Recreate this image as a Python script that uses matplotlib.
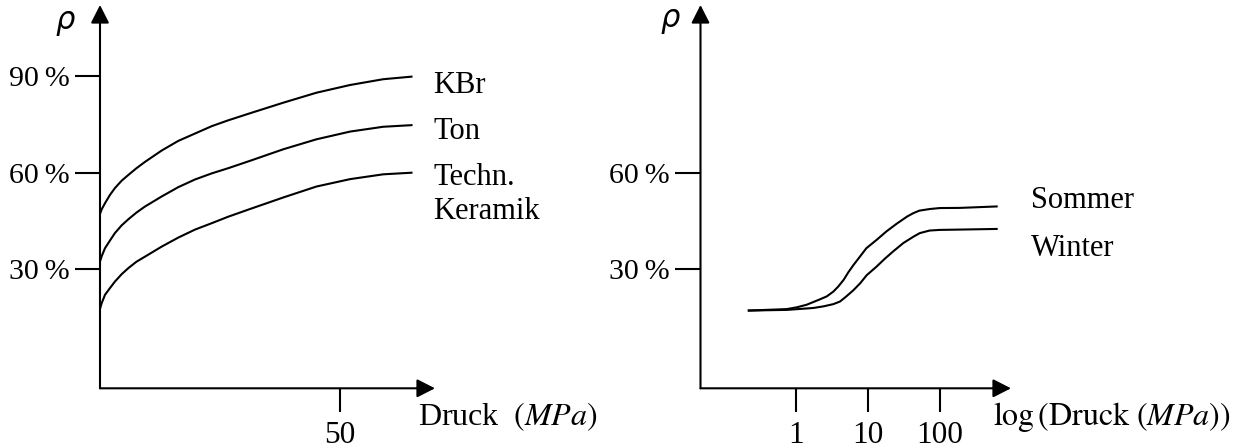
import numpy as np
import matplotlib
matplotlib.use('Agg')
import matplotlib.pyplot as plt
from matplotlib.ticker import NullLocator

plt.rcParams['font.family'] = ['Liberation Serif', 'DejaVu Serif']
plt.rcParams['mathtext.fontset'] = 'stix'

# --- Daten links: Dichte gegen Druck (MPa) ---
druck = [0, 0.35, 1.04, 2.08, 3.1, 4.5, 5.9, 7.6, 9.4, 12.85, 16.3, 19.8,
         23.3, 26.7, 31.25, 38.2, 45.1, 52.1, 59.0, 64.9]
kbr = [47.2, 48.6, 50.5, 53.1, 55.2, 57.5, 59.3, 61.4, 63.4, 66.9, 69.9, 72.2,
       74.5, 76.3, 78.5, 81.8, 84.9, 87.3, 89.1, 89.9]
ton = [32.4, 34.0, 36.5, 38.9, 41.2, 43.6, 45.5, 47.6, 49.5, 52.6, 55.5, 57.9,
       59.8, 61.4, 63.7, 67.3, 70.4, 72.8, 74.3, 74.8]
keramik = [17.6, 19.4, 22.0, 24.1, 26.1, 28.4, 30.3, 32.3, 33.9, 37.0, 39.8, 42.3,
           44.3, 46.3, 48.7, 52.3, 55.7, 58.0, 59.5, 60.0]
links_yticks = [30, 60, 90]
links_xticks = [50]

# --- Daten rechts: Dichte gegen log(Druck) ---
druck_s = [0.22, 0.74, 1.02, 1.4, 2.1, 2.67, 3.3, 3.87, 4.6, 5.33, 6.3, 7.74, 9.5,
           13.2, 18, 25, 35, 42.6, 52, 72.4, 100, 190, 617]
sommer = [17.1, 17.55, 18.1, 18.9, 20.5, 21.5, 23.0, 24.6, 26.7, 29.0, 31.3, 33.9,
          36.5, 39.1, 41.7, 44.1, 46.35, 47.4, 48.2, 48.7, 49.0, 49.05, 49.5]
druck_w = [0.22, 0.74, 1.14, 1.74, 2.4, 3.3, 4.08, 5.0, 6.25, 7.8, 9.6, 13.2,
           17.3, 22.4, 31, 43, 52.6, 72, 100, 190, 617]
winter = [17.1, 17.3, 17.6, 17.9, 18.4, 19.1, 19.9, 21.5, 23.4, 25.6, 28.1, 30.8,
          33.3, 35.5, 38.1, 40.1, 41.2, 42.0, 42.2, 42.3, 42.5]
rechts_yticks = [30, 60]
rechts_xticks = [1, 10, 100]

W, H = 1248, 448
fig = plt.figure(figsize=(W / 100, H / 100), dpi=100)

ax1 = fig.add_axes([100 / W, 1 - 388.3 / H, 335 / W, 383.3 / H])
ax2 = fig.add_axes([700.5 / W, 1 - 388.3 / H, 310.5 / W, 383.3 / H])

ylim = (-7.1, 112.2)
lw = 1.5


def achsen(ax):
    for s in ax.spines.values():
        s.set_visible(False)
    ax.set_facecolor('none')
    pfeil = dict(arrowstyle='-|>,head_length=0.55,head_width=0.28',
                 mutation_scale=20, color='black', lw=lw, shrinkA=0, shrinkB=0)
    ax.annotate('', xy=(1, 0), xytext=(0, 0), xycoords='axes fraction',
                textcoords='axes fraction', arrowprops=pfeil)
    ax.annotate('', xy=(0, 1), xytext=(0, 0), xycoords='axes fraction',
                textcoords='axes fraction', arrowprops=pfeil)
    ax.tick_params(axis='y', length=18, width=lw, pad=4, labelsize=21.5)
    ax.tick_params(axis='x', length=17.5, width=lw, pad=6, labelsize=22.5)
    ax.set_ylim(*ylim)


# links
ax1.plot(druck, kbr, color='black', lw=lw)
ax1.plot(druck, ton, color='black', lw=lw)
ax1.plot(druck, keramik, color='black', lw=lw)
ax1.set_xlim(0, 69.8)
achsen(ax1)
ax1.set_yticks(links_yticks, [f'{v}\u2009%' for v in links_yticks])
ax1.set_xticks(links_xticks, [str(v) for v in links_xticks])
ax1.text(69.4, 87.3, 'KBr', fontsize=22, va='center', ha='left')
ax1.text(69.4, 72.8, 'Ton', fontsize=22, va='center', ha='left')
ax1.text(69.4, 53.2, 'Techn.\nKeramik', fontsize=22, va='center', ha='left',
         linespacing=1.25)
ax1.text(0.949, -0.074, r'Druck $\ \left(MPa\right)$', transform=ax1.transAxes,
         fontsize=23, va='center', ha='left')
ax1.text(-0.104, 0.956, 'ρ', transform=ax1.transAxes, fontsize=22,
         family='DejaVu Sans', style='italic', va='center', ha='center')

# rechts
ax2.plot(druck_s, sommer, color='black', lw=lw)
ax2.plot(druck_w, winter, color='black', lw=lw)
ax2.set_xscale('log')
ax2.set_xlim(0.0468, 977)
achsen(ax2)
ax2.xaxis.set_minor_locator(NullLocator())
ax2.set_yticks(rechts_yticks, [f'{v}\u2009%' for v in rechts_yticks])
ax2.set_xticks(rechts_xticks, [str(v) for v in rechts_xticks])
ax2.text(1870, 51.3, 'Sommer', fontsize=22, va='center', ha='left')
ax2.text(1870, 36.3, 'Winter', fontsize=22, va='center', ha='left')
ax2.text(0.942, -0.074, r'$\log\left(\mathrm{Druck}\ \left(MPa\right)\right)$',
         transform=ax2.transAxes, fontsize=23, va='center', ha='left')
ax2.text(-0.098, 0.961, 'ρ', transform=ax2.transAxes, fontsize=22,
         family='DejaVu Sans', style='italic', va='center', ha='center')

fig.savefig('out.png', dpi=100)
